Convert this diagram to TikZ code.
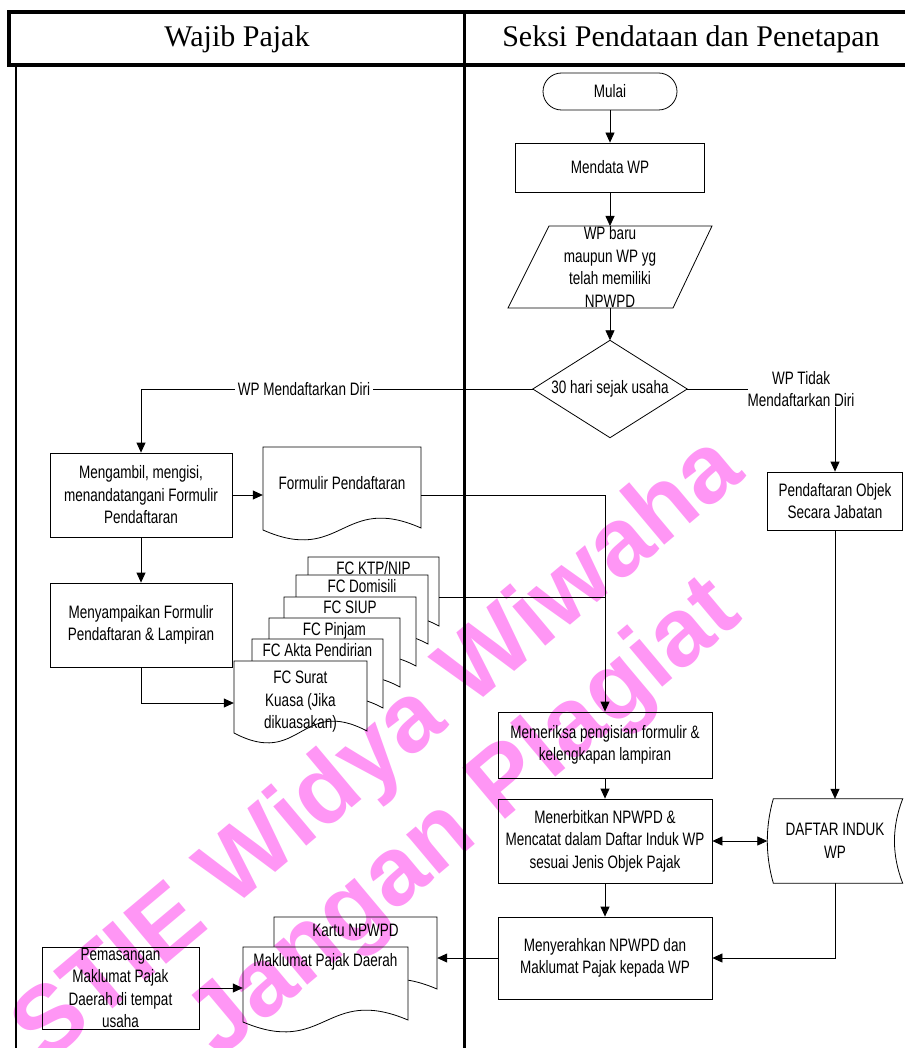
\documentclass[tikz,border=0pt]{standalone}
\usepackage{fontspec}
\setmainfont{Liberation Serif}
\newfontfamily\nar[FakeStretch=0.75]{Liberation Sans}
\newfontfamily\wmfont{Liberation Sans}
\usetikzlibrary{arrows.meta,calc}
\definecolor{wmpink}{RGB}{255,150,245}
\tikzset{
  every node/.style={inner sep=0pt},
  txt/.style={align=center, font=\nar\fontsize{18}{22.5}\selectfont},
  proc/.style={txt, draw, line width=0.8pt},
  ln/.style={line width=0.8pt},
  arr/.style={ln, -{Triangle[length=10pt,width=9pt]}},
  arrtwo/.style={ln, {Triangle[length=10pt,width=9pt]}-{Triangle[length=10pt,width=9pt]}},
  docline/.style={line width=0.8pt, fill=white, draw=black},
  wm/.style={text=wmpink, font=\wmfont\bfseries\fontsize{97}{97}\selectfont, rotate=40},
  lanetitle/.style={font=\fontsize{30}{32}\selectfont}
}
% document outline: left x, top y, width, height (to left corner)
\newcommand\docoutline[4]{%
  \path[docline] (#1,#2) -- ({#1+#3},#2) -- ({#1+#3},{#2+#4-2})
    .. controls ({#1+#3/2},{#2+#4-37}) and ({#1+#3/2},{#2+#4+35}) .. (#1,{#2+#4}) -- cycle;}
\begin{document}
\begin{tikzpicture}[x=1pt,y=-1pt]
\useasboundingbox (0,0) rectangle (904,1048);

% ---- swimlanes ----
\draw[line width=4pt] (9,12) rectangle (914,65);
\draw[line width=3pt] (464,12) -- (464,1052);
\draw[line width=2pt] (16,65) -- (16,1052);
\node[lanetitle] (laneA) at (237,39) {Wajib Pajak};
\node[lanetitle] (laneB) at (691,39) {Seksi Pendataan dan Penetapan};

% ---- right lane top flow ----
\node[proc, minimum width=134, minimum height=37, rounded corners=18.5] (mulai) at (610,91.5) {Mulai};
\node[proc, minimum width=189, minimum height=49] (mendata) at (610,167.5) {Mendata WP};
\node[txt] (para) at (610,267) {WP baru\\maupun WP yg\\telah memiliki\\NPWPD};
\draw[ln] ($(para)+(-61,-41)$) -- ($(para)+(102,-41)$) -- ($(para)+(63,41)$) -- ($(para)+(-102,41)$) -- cycle;
\coordinate (paraN) at ($(para)+(0,-41)$);
\coordinate (paraS) at ($(para)+(0,41)$);
\node[txt, minimum width=154, minimum height=97] (dec) at (610,389) {30 hari sejak usaha};
\draw[ln] (dec.north) -- (dec.east) -- (dec.south) -- (dec.west) -- cycle;

\draw[arr] (mulai.south) -- (mendata.north);
\draw[arr] (mendata.south) -- (paraN);
\draw[arr] (paraS) -- (dec.north);

% ---- branches ----
\node[proc, minimum width=182, minimum height=84] (ambil) at (141,495) {Mengambil, mengisi,\\menandatangani Formulir\\Pendaftaran};
\draw[arr] (dec.west) -| (ambil.north);
\node[txt, fill=white, inner xsep=3pt, inner ysep=2pt] (lblL) at (304,389) {WP Mendaftarkan Diri};

\node[txt] (lblR) at (801,389) {WP Tidak\\Mendaftarkan Diri};
\node[proc, minimum width=135, minimum height=58] (pend) at (835,501) {Pendaftaran Objek\\Secara Jabatan};
\draw[ln] (dec.east) -- (lblR.west);
\draw[arr] (lblR.south -| pend.north) -- (pend.north);

% ---- Formulir Pendaftaran document ----
\docoutline{263}{447}{158}{83}
\node[txt, minimum width=158] (form) at (342,483) {Formulir Pendaftaran};
\draw[arr] (ambil.east) -- (ambil.east -| form.west);

\node[proc, minimum width=182, minimum height=84] (sampai) at (141,625) {Menyampaikan Formulir\\Pendaftaran \& Lampiran};
\draw[arr] (ambil.south) -- (sampai.north);

% ---- stacked attachments ----
\docoutline{308}{557}{131}{71}
\node[txt, anchor=north, minimum width=131] (ktp) at (373.5,561) {FC KTP/NIP};
\docoutline{296}{575}{132}{71}
\node[txt, anchor=north, minimum width=132] (domisili) at (362,579) {FC Domisili};
\docoutline{284}{597}{132}{71}
\node[txt, anchor=north, minimum width=132] (siup) at (350,601) {FC SIUP};
\docoutline{269}{618}{131}{71}
\node[txt, anchor=north, minimum width=131] (pinjam) at (334.5,622) {FC Pinjam};
\docoutline{252}{639}{131}{71}
\node[txt, anchor=north, minimum width=131] (akta) at (317.5,643) {FC Akta Pendirian};
\docoutline{234}{661}{133}{72}
\node[txt, anchor=north, minimum width=133] (surat) at (300.5,671) {FC Surat\\Kuasa (Jika\\dikuasakan)};
\coordinate (c1) at (141,703);
\draw[arr] (sampai.south) |- (surat.west |- c1);

% ---- right lane lower flow ----
\node[proc, minimum width=214, minimum height=66] (periksa) at (605,745) {Memeriksa pengisian formulir \&\\kelengkapan lampiran};
\node[proc, minimum width=214, minimum height=84] (terbit) at (605,841) {Menerbitkan NPWPD \&\\Mencatat dalam Daftar Induk WP\\sesuai Jenis Objek Pajak};
\node[proc, minimum width=214, minimum height=82] (serah) at (605,958) {Menyerahkan NPWPD dan\\Maklumat Pajak kepada WP};
\node[txt, minimum width=135, minimum height=84] (daf) at (835,841) {DAFTAR INDUK\\WP};
\draw[ln] ($(daf.north west)+(6,0)$) -- (daf.north east)
  .. controls ($(daf.north east)+(-11,28)$) and ($(daf.south east)+(-11,-28)$) .. (daf.south east)
  -- ($(daf.south west)+(6,0)$)
  .. controls ($(daf.south west)+(-2,-28)$) and ($(daf.north west)+(-2,28)$) .. ($(daf.north west)+(6,0)$) -- cycle;

\coordinate (j1) at (605,495);
\coordinate (j2) at (605,597);
\draw[arr] (form.east |- j1) -| (periksa.north);
\draw[ln] (ktp.east |- j2) -- (j2);
\draw[arr] (periksa.south) -- (terbit.north);
\draw[arr] (terbit.south) -- (serah.north);
\draw[arrtwo] (terbit.east) -- (daf.west);
\draw[arr] (pend.south) -- (pend.south |- daf.north);
\draw[arr] (daf.south) |- (serah.east);

% ---- outputs ----
\docoutline{274}{917}{163}{74}
\node[txt, anchor=north, minimum width=163] (kartu) at (355.5,924) {Kartu NPWPD};
\docoutline{243}{947}{165}{75}
\node[txt, anchor=north, minimum width=165] (maklumat) at (325.5,953) {Maklumat Pajak Daerah};
\node[proc, minimum width=157, minimum height=82] (pasang) at (120.5,988) {Pemasangan\\Maklumat Pajak\\Daerah di tempat\\usaha};
\draw[arr] (serah.west) -- (serah.west -| kartu.east);
\draw[arr] (pasang.east) -- (pasang.east -| maklumat.west);

% ---- watermark ----
\begin{scope}[blend mode=multiply]
\node[wm] (wm1) at (380,752) {STIE Widya Wiwaha};
\node[wm] (wm2) at (466,820) {Jangan Plagiat};
\end{scope}
\end{tikzpicture}
\end{document}
